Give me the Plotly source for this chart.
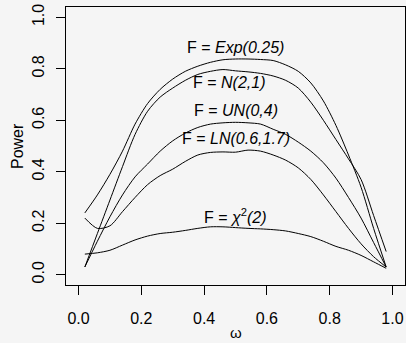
import plotly.graph_objects as go

omega = [0.02, 0.06, 0.10, 0.14, 0.18, 0.22, 0.26, 0.30, 0.34, 0.38, 0.42, 0.46, 0.50,
         0.54, 0.58, 0.62, 0.66, 0.70, 0.74, 0.78, 0.82, 0.86, 0.90, 0.94, 0.98]

power_exp = [0.24, 0.31, 0.39, 0.48, 0.585, 0.665, 0.72, 0.76, 0.79, 0.81, 0.825, 0.835, 0.838,
             0.838, 0.836, 0.832, 0.815, 0.79, 0.745, 0.675, 0.58, 0.465, 0.34, 0.18, 0.03]
power_norm = [0.03, 0.16, 0.29, 0.42, 0.545, 0.635, 0.69, 0.725, 0.755, 0.778, 0.79, 0.797, 0.792,
              0.788, 0.782, 0.772, 0.755, 0.725, 0.67, 0.6, 0.525, 0.45, 0.37, 0.23, 0.09]
power_un = [0.03, 0.13, 0.225, 0.31, 0.38, 0.43, 0.48, 0.52, 0.55, 0.572, 0.585, 0.59, 0.592,
            0.59, 0.585, 0.565, 0.545, 0.515, 0.48, 0.435, 0.375, 0.30, 0.22, 0.125, 0.03]
power_ln = [0.22, 0.18, 0.19, 0.245, 0.30, 0.35, 0.385, 0.41, 0.44, 0.465, 0.475, 0.477, 0.476,
            0.484, 0.48, 0.465, 0.445, 0.415, 0.37, 0.31, 0.245, 0.18, 0.12, 0.07, 0.03]
power_chi = [0.08, 0.085, 0.095, 0.115, 0.135, 0.15, 0.16, 0.165, 0.172, 0.18, 0.186, 0.186, 0.183,
             0.18, 0.178, 0.175, 0.17, 0.16, 0.148, 0.13, 0.11, 0.095, 0.075, 0.05, 0.025]

series = [power_exp, power_norm, power_un, power_ln, power_chi]

label_text = ["F = <i>Exp(0.25)</i>", "F = <i>N(2,1)</i>", "F = <i>UN(0,4)</i>",
              "F = <i>LN(0.6,1.7)</i>", "F = <i>χ</i><sup>2</sup><i>(2)</i>"]
label_x = [0.50, 0.48, 0.50, 0.50, 0.50]
label_y = [0.884, 0.745, 0.636, 0.528, 0.23]

xticks = [0.0, 0.2, 0.4, 0.6, 0.8, 1.0]
yticks = [0.0, 0.2, 0.4, 0.6, 0.8, 1.0]

FONT = "Liberation Sans, Arial, Helvetica, sans-serif"
BG = "#f5f5f5"

fig = go.Figure()
for s in series:
    fig.add_trace(go.Scatter(x=omega, y=s, mode="lines",
                             line=dict(color="black", width=1, shape="spline", smoothing=0.8),
                             showlegend=False, hoverinfo="skip"))

for t, x, y in zip(label_text, label_x, label_y):
    fig.add_annotation(x=x, y=y, text=t, showarrow=False, xanchor="center", yanchor="middle",
                       font=dict(family=FONT, size=16, color="black"))

fig.add_annotation(xref="paper", yref="paper", x=0.5, y=-0.17, text="ω", showarrow=False,
                   xanchor="center", yanchor="middle", font=dict(family=FONT, size=15, color="black"))
fig.add_annotation(xref="paper", yref="paper", x=-0.1445, y=0.5, text="Power", showarrow=False,
                   textangle=-90, xanchor="center", yanchor="middle",
                   font=dict(family=FONT, size=16, color="black"))

fig.update_layout(
    width=406, height=343,
    margin=dict(l=66, r=1, t=7, b=58),
    paper_bgcolor=BG, plot_bgcolor=BG,
    font=dict(family=FONT, size=16, color="black"),
    xaxis=dict(range=[-0.04, 1.04], tickvals=xticks, ticktext=[f"{v:.1f}" for v in xticks],
               ticks="outside", ticklen=9, tickwidth=1, tickcolor="black",
               showline=True, linecolor="black", linewidth=1, mirror=True,
               showgrid=False, zeroline=False, ticklabelstandoff=10),
    yaxis=dict(range=[-0.04, 1.04], tickvals=yticks, ticktext=[f"{v:.1f}" for v in yticks],
               ticks="outside", ticklen=9, tickwidth=1, tickcolor="black", tickangle=-90,
               showline=True, linecolor="black", linewidth=1, mirror=True,
               showgrid=False, zeroline=False, ticklabelstandoff=6),
)

fig.write_html("out.html")
